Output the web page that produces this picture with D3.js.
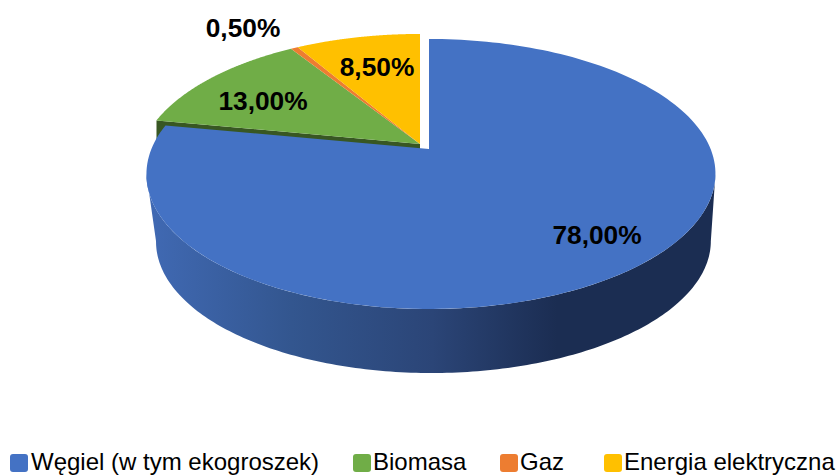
<!DOCTYPE html>
<html><head><meta charset="utf-8">
<script src="https://cdn.jsdelivr.net/npm/d3@7"></script>
<style>html,body{margin:0;background:#fff}svg{display:block}text{font-family:"Liberation Sans",Arial,sans-serif;fill:#000}</style>
</head><body><svg id="c" width="837" height="475"></svg>
<script>
const categories=["Węgiel (w tym ekogroszek)","Biomasa","Gaz","Energia elektryczna"];
const shares=[78,13,0.5,8.5];
const colors=["#4472C4","#70AD47","#ED7D31","#FFC000"];
const greenWall="#385723";
const labelText=["78,00%","13,00%","0,50%","8,50%"];
const labelAnchors=[[597,235],[263,101],[243,28],[377,67]];
const legendSwatchX=[10,353,500,604];
const legendTextX=[31,373,520,624];

const svg=d3.select("#c");
const defs=svg.append("defs");
const grad=defs.append("linearGradient").attr("id","side").attr("gradientUnits","userSpaceOnUse")
  .attr("x1",150).attr("x2",715).attr("y1",0).attr("y2",0);
[[0,"#4069b3"],[.25,"#33568f"],[.5,"#2b4577"],[.72,"#1b2d52"],[1,"#1b2d52"]]
 .forEach(([o,c])=>grad.append("stop").attr("offset",o).attr("stop-color",c));

const pie=d3.pie().sort(null).value(d=>d)(shares);
// perspective projection of the unit disc (a = clockwise from 12 o'clock)
const K=.185;
function proj(a,r,plane,off){
  const u=r*Math.sin(a),v=r*Math.cos(a),d=1+K*v;
  const s=plane?.975:1, x0=plane?431.5:429, y0=plane?217:149;
  return [x0+279.6*s*u/d+2*u*u+off[0], y0-130.4*s*v/d+off[1]];
}
const line=d3.line();
const steps=(a,b)=>d3.range(0,181).map(i=>a+(b-a)*i/180);
const offs=[[0,0],[-9,-5],[-9,-5],[-9,-5]];

// Outer wall of the large slice, between the widest points of the rim
const A0=Math.acos(-K),A1=2*Math.PI-A0;
const wall=steps(A0,A1);
svg.append("path").attr("fill","url(#side)")
  .attr("d",line(wall.map(a=>proj(a,1,0,offs[0])).concat(wall.slice().reverse().map(a=>proj(a,1,1,offs[0]))))+"Z");

// Cut wall of the green slice, mostly hidden by the big slice
const g=pie[1];
const gL=proj(g.startAngle,1,0,offs[1]),gC=proj(0,0,0,offs[1]);
svg.append("path").attr("fill",greenWall)
  .attr("d",line([gC,gL,[gL[0],gL[1]+40],[gC[0],gC[1]+40]])+"Z");

// Top faces: smaller slices first
[1,2,3,0].forEach(i=>{
  const p=pie[i];
  const pts=[proj(0,0,0,offs[i])].concat(steps(p.startAngle,p.endAngle).map(a=>proj(a,1,0,offs[i])));
  svg.append("path").attr("fill",colors[i]).attr("d",line(pts)+"Z");
});

// Data labels
svg.append("g").selectAll("text").data(labelText).join("text")
  .attr("x",(d,i)=>labelAnchors[i][0]).attr("y",(d,i)=>labelAnchors[i][1])
  .attr("text-anchor","middle").attr("dominant-baseline","central")
  .attr("font-size",26.3).attr("font-weight","bold").text(d=>d);

// Legend
const lg=svg.append("g");
lg.selectAll("rect").data(colors).join("rect")
  .attr("x",(d,i)=>legendSwatchX[i]).attr("y",454).attr("width",18).attr("height",18).attr("rx",3)
  .attr("fill",d=>d);
lg.selectAll("text").data(categories).join("text")
  .attr("x",(d,i)=>legendTextX[i]).attr("y",470).attr("font-size",24).text(d=>d);
</script></body></html>
